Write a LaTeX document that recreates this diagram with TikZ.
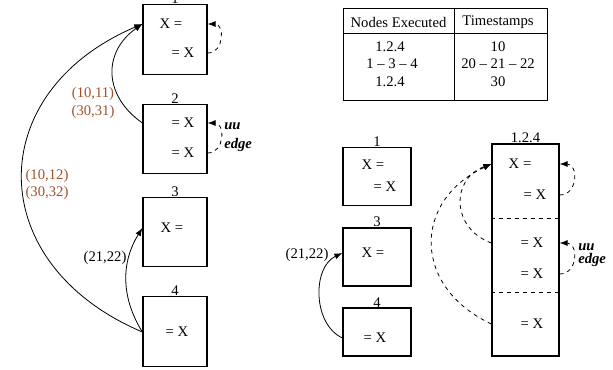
\documentclass[tikz,border=0pt]{standalone}
\usepackage{fontspec}
\setmainfont{Liberation Serif}
\usetikzlibrary{positioning,arrows.meta}
\definecolor{pairbrown}{RGB}{160,82,45}

\begin{document}
\begin{tikzpicture}[x=0.75pt, y=0.75pt, font=\fontsize{11}{13}\selectfont,
	box/.style={draw, line width=0.9pt, inner sep=0pt, minimum width=48pt, minimum height=52pt},
	flow/.style={-{Latex[length=6pt,width=4.5pt]}, line width=0.6pt},
	loop/.style={flow, dashed, out=0, in=0, looseness=1.5},
	pair/.style={text=pairbrown, align=center},
	uu/.style={font=\fontsize{11}{13}\selectfont\bfseries\itshape, anchor=west, inner sep=0pt}]
				\useasboundingbox (0,0) rectangle (613,369);
				% left: original graph
				\node[box, label={[inner sep=0pt]above:1}] (l1) at (175,329.5) {};
				\node[box, label={[inner sep=0pt]above:2}] (l2) at (175,230) {};
				\node[box, label={[inner sep=0pt]above:3}] (l3) at (175,137) {};
				\node[box, label={[inner sep=0pt]above:4}] (l4) at (175,37.5) {};
				\node (l1a) at (171,345) {X =};
				\node (l1b) at (183,316) {= X};
				\node (l2a) at (183,246) {= X};
				\node (l2b) at (183,216) {= X};
				\node (l3a) at (172,141) {X =};
				\node (l4a) at (177,37) {= X};
				\draw[flow] (l2.west |- l2a) to[bend left=55, looseness=1.25] (l1.west |- l1a);
				\draw[flow] (l4.west |- l4a) to[bend left=67, looseness=1.45] (l1.west |- l1a);
				\draw[flow] (l4.west |- l4a) to[bend left=32] (l3.west |- l3a);
				\draw[loop] (l1.east |- l1b) to (l1.east |- l1a);
				\draw[loop] (l2.east |- l2b) to (l2.east |- l2a);
				\node[pair] (p1) at (93,266) {(10,11)\\(30,31)};
				\node[pair] (p2) at (47,184.5) {(10,12)\\(30,32)};
				\node (p3) at (105,111) {(21,22)};
				\node[uu, align=left] (uu1) at (224,232) {uu\\[1pt]edge};
				% right: table
				\draw[line width=0.7pt] (343,269) rectangle (547,361);
				\draw[line width=0.7pt] (343,336) -- (547,336);
				\draw[line width=0.7pt] (454,269) -- (454,361);
				\node (hnodes) at (398.5,347) {Nodes Executed};
				\node (htimes) at (498,347) {Timestamps};
				\node (n1) at (390,322) {1.2.4};
				\node (n2) at (392,305) {1 -- 3 -- 4};
				\node (n3) at (390,287) {1.2.4};
				\node (t1) at (498,322) {10};
				\node (t2) at (498,305) {20 -- 21 -- 22};
				\node (t3) at (498,287) {30};
				% right: merged graph
				\node[box, minimum width=51pt, minimum height=44pt, label={[inner sep=0pt]above:1}] (r1) at (377,192.5) {};
				\node[box, minimum width=51pt, minimum height=43.5pt, label={[inner sep=0pt]above:3}] (r3) at (377,112) {};
				\node[box, minimum width=51pt, minimum height=36pt, label={[inner sep=0pt]above:4}] (r4) at (377,37) {};
				\node (r1a) at (373,204) {X =};
				\node (r1b) at (385,182) {= X};
				\node (r3a) at (373,116) {X =};
				\node (r4a) at (375,31) {= X};
				\draw[flow] (r4.west |- r4a) to[bend left=65] (r3.west |- r3a);
				\node (p4) at (307,114) {(21,22)};
				\node[box, minimum width=50.25pt, minimum height=159pt, label={[inner sep=0pt]above:1.2.4}] (big) at (525.5,119) {};
				\draw[dashed, line width=0.7pt] (big.west |- 0,151) -- (big.east |- 0,151);
				\draw[dashed, line width=0.7pt] (big.west |- 0,77) -- (big.east |- 0,77);
				\node (b1a) at (520,205) {X =};
				\node (b1b) at (535,174) {= X};
				\node (b2a) at (532,126) {= X};
				\node (b2b) at (532,95) {= X};
				\node (b3a) at (532,45) {= X};
				\draw[flow, dashed] (big.west |- b2a) to[bend left=70, looseness=1.4] (big.west |- b1a);
				\draw[flow, dashed] (big.west |- b3a) to[bend left=65, looseness=1.4] (big.west |- b1a);
				\draw[loop, looseness=1.55] (big.east |- b1b) to (big.east |- b1a);
				\draw[loop, looseness=1.55] (big.east |- b2b) to (big.east |- b2a);
				\node[uu, align=left] (uu2) at (578,114) {uu\\[-3pt]edge};
			\end{tikzpicture}
\end{document}
